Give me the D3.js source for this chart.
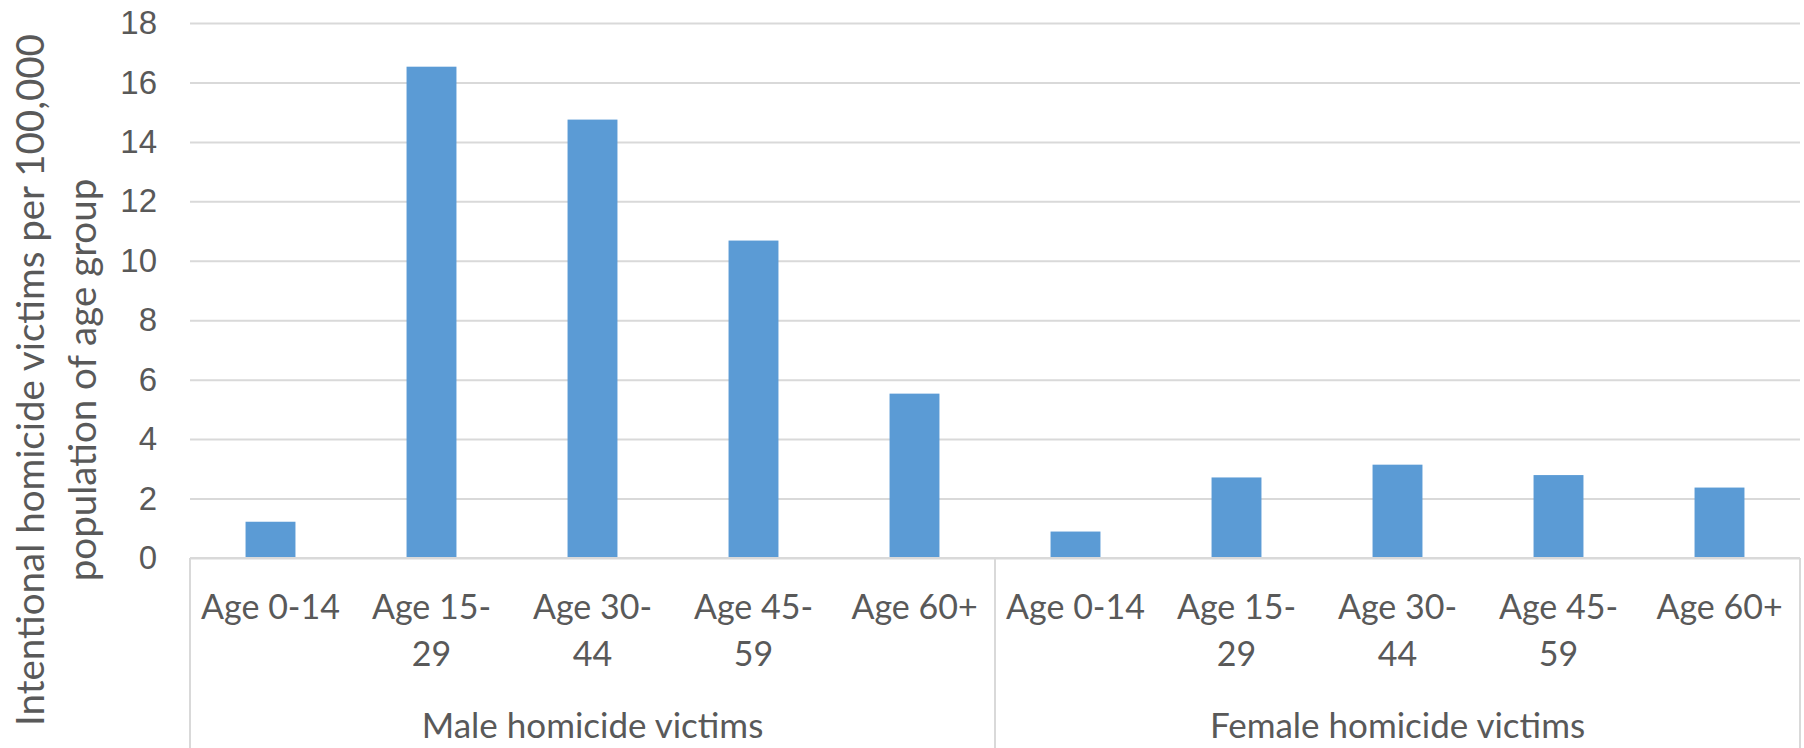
<!DOCTYPE html>
<html>
<head>
<meta charset="utf-8">
<script src="https://cdn.jsdelivr.net/npm/d3@7"></script>
<style>
  body { margin: 0; background: #fff; }
  svg { display: block; font-family: Lato, "Open Sans", sans-serif; }
  .tick text { fill: #595959; }
</style>
</head>
<body>
<svg class="chart"></svg>
<script>
// data
var groups = ["Male homicide victims", "Female homicide victims"]
var ageGroups = ["Age 0-14", "Age 15-29", "Age 30-44", "Age 45-59", "Age 60+"]
var ageLabels = [["Age 0-14"], ["Age 15-", "29"], ["Age 30-", "44"], ["Age 45-", "59"], ["Age 60+"]]
var maleValues = [1.22, 16.53, 14.75, 10.68, 5.53]
var femaleValues = [0.89, 2.71, 3.14, 2.79, 2.37]
var yTicks = [0, 2, 4, 6, 8, 10, 12, 14, 16, 18]
var yTitle = ["Intentional homicide victims per 100,000", "population of age group"]

var W = 1804, H = 748
var margin = {top: 23, right: 4, bottom: 190, left: 190},
    width = W - margin.left - margin.right,
    height = H - margin.top - margin.bottom

var dataset = []
groups.forEach(function(g, gi) {
    var vals = gi == 0 ? maleValues : femaleValues
    ageGroups.forEach(function(a, ai) {
        dataset.push({key: g + "|" + a, group: gi, age: ai, value: vals[ai]})
    })
})

var svg = d3.select(".chart")
    .attr("width", W)
    .attr("height", H)

var chart = svg.append("g")
    .attr("transform", "translate(" + margin.left + "," + margin.top + ")")

var xBand = d3.scaleBand()
    .domain(dataset.map(d => d.key))
    .range([0, width])
    .paddingInner(0.69)
    .paddingOuter(0.345)

var yScale = d3.scaleLinear()
    .domain([0, 18])
    .range([height, 0])

var yAxis = d3.axisLeft(yScale)
    .tickValues(yTicks)
    .tickSize(-width)
    .tickPadding(33)

var yg = chart.append("g")
    .attr("class", "y axis")
    .call(yAxis)
yg.select(".domain").remove()
yg.selectAll(".tick line")
    .attr("stroke", "#d9d9d9")
    .attr("stroke-width", 2)
yg.selectAll(".tick text")
    .style("font-size", "33px")

// bars
chart.selectAll(".bar")
    .data(dataset)
    .enter().append("rect")
    .attr("class", "bar")
    .attr("x", d => xBand(d.key))
    .attr("y", d => yScale(d.value))
    .attr("width", xBand.bandwidth())
    .attr("height", d => height - yScale(d.value))
    .attr("fill", "#5b9bd5")

// category axis with group boxes
var groupWidth = width / groups.length
var xg = chart.append("g")
    .attr("class", "x axis")
    .attr("transform", "translate(0," + height + ")")

xg.append("line")
    .attr("x1", 0).attr("x2", width)
    .attr("y1", 0).attr("y2", 0)
    .attr("stroke", "#d9d9d9").attr("stroke-width", 2)

d3.range(groups.length + 1).forEach(function(i) {
    xg.append("line")
        .attr("x1", i * groupWidth).attr("x2", i * groupWidth)
        .attr("y1", 0).attr("y2", margin.bottom)
        .attr("stroke", "#d9d9d9").attr("stroke-width", 2)
})

xg.selectAll(".cat")
    .data(dataset)
    .enter().append("text")
    .attr("class", "cat")
    .attr("text-anchor", "middle")
    .attr("fill", "#595959")
    .style("font-size", "34px")
    .each(function(d) {
        var t = d3.select(this)
        ageLabels[d.age].forEach(function(line, li) {
            t.append("tspan")
                .attr("x", xBand(d.key) + xBand.bandwidth() / 2)
                .attr("y", 61 + li * 47)
                .text(line)
        })
    })

xg.selectAll(".grp")
    .data(groups)
    .enter().append("text")
    .attr("class", "grp")
    .attr("text-anchor", "middle")
    .attr("fill", "#595959")
    .style("font-size", "35px")
    .attr("x", (d, i) => (i + 0.5) * groupWidth)
    .attr("y", 180)
    .text(d => d)

// y axis title
svg.append("g")
    .attr("transform", "translate(0,380) rotate(-90)")
    .selectAll("text")
    .data(yTitle)
    .enter().append("text")
    .attr("text-anchor", "middle")
    .attr("fill", "#595959")
    .style("font-size", "38.5px")
    .attr("x", 0)
    .attr("y", (d, i) => 44 + i * 52)
    .text(d => d)
</script>
</body>
</html>
